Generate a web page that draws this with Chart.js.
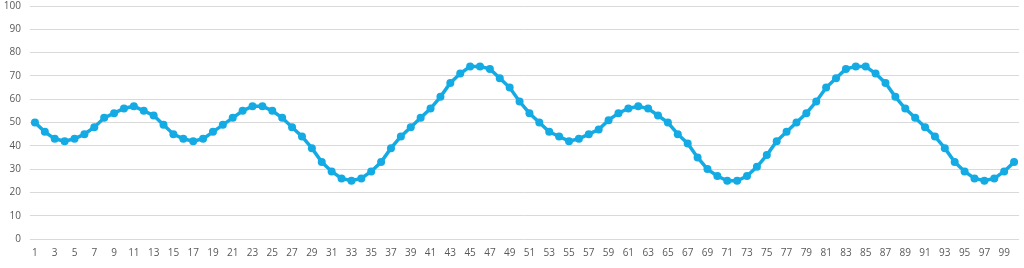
<!DOCTYPE html>
<html>
<head>
<meta charset="utf-8">
<script src="https://cdn.jsdelivr.net/npm/chart.js@4"></script>
<style>
  html, body { margin: 0; padding: 0; background: #fff; }
  #wrap { width: 1024px; height: 268px; }
</style>
</head>
<body>
<div id="wrap"><canvas id="lineChart"></canvas></div>
<script>
const categories = [
  1, 2, 3, 4, 5, 6, 7, 8, 9, 10, 11, 12, 13, 14, 15, 16, 17, 18, 19, 20,
  21, 22, 23, 24, 25, 26, 27, 28, 29, 30, 31, 32, 33, 34, 35, 36, 37, 38, 39, 40,
  41, 42, 43, 44, 45, 46, 47, 48, 49, 50, 51, 52, 53, 54, 55, 56, 57, 58, 59, 60,
  61, 62, 63, 64, 65, 66, 67, 68, 69, 70, 71, 72, 73, 74, 75, 76, 77, 78, 79, 80,
  81, 82, 83, 84, 85, 86, 87, 88, 89, 90, 91, 92, 93, 94, 95, 96, 97, 98, 99, 100
];

const values = [
  50, 46, 43, 42, 43, 45, 48, 52, 54, 56, 57, 55, 53, 49, 45, 43, 42, 43, 46, 49,
  52, 55, 57, 57, 55, 52, 48, 44, 39, 33, 29, 26, 25, 26, 29, 33, 39, 44, 48, 52,
  56, 61, 67, 71, 74, 74, 73, 69, 65, 59, 54, 50, 46, 44, 42, 43, 45, 47, 51, 54,
  56, 57, 56, 53, 50, 45, 41, 35, 30, 27, 25, 25, 27, 31, 36, 42, 46, 50, 54, 59,
  65, 69, 73, 74, 74, 71, 67, 61, 56, 52, 48, 44, 39, 33, 29, 26, 25, 26, 29, 33
];

const yTicks = [0, 10, 20, 30, 40, 50, 60, 70, 80, 90, 100];

const lineColor = '#14ABE4';
const gridColor = '#D9D9D9';
const labelColor = '#595959';

window.addEventListener('DOMContentLoaded', () => {
    renderChart();
});

function renderChart() {
    const ctx = document.getElementById('lineChart');

    new Chart(ctx, {
        type: 'line',
        data: {
            labels: categories,
            datasets: [{
                data: values,
                borderColor: lineColor,
                backgroundColor: lineColor,
                borderWidth: 3.5,
                pointRadius: 4,
                pointBorderWidth: 0,
                pointBackgroundColor: lineColor,
                tension: 0,
                fill: false
            }]
        },
        options: {
            responsive: true,
            maintainAspectRatio: false,
            animation: false,
            layout: {
                padding: { top: 6, right: 5, left: 0, bottom: 0 }
            },
            plugins: {
                legend: { display: false },
                tooltip: { enabled: false }
            },
            scales: {
                x: {
                    offset: true,
                    grid: { display: false, drawTicks: false },
                    border: { display: false },
                    ticks: {
                        autoSkip: false,
                        maxRotation: 0,
                        padding: 8,
                        color: labelColor,
                        font: { family: 'Open Sans', size: 10 },
                        callback: function (value, index) {
                            return index % 2 === 0 ? categories[index] : '';
                        }
                    },
                    afterFit: (scale) => { scale.height = 29; }
                },
                y: {
                    min: 0,
                    max: 100,
                    afterBuildTicks: (scale) => {
                        scale.ticks = yTicks.map(v => ({ value: v }));
                    },
                    grid: { color: gridColor, lineWidth: 1, drawTicks: false },
                    border: { display: false },
                    ticks: {
                        padding: 9,
                        color: labelColor,
                        font: { family: 'Open Sans', size: 10 }
                    },
                    afterFit: (scale) => {
                        scale.width = 30;
                        // top label may sit half outside, like the original
                        scale.paddingTop = 0;
                        scale.paddingBottom = 0;
                    }
                }
            }
        }
    });
}
</script>
</body>
</html>
